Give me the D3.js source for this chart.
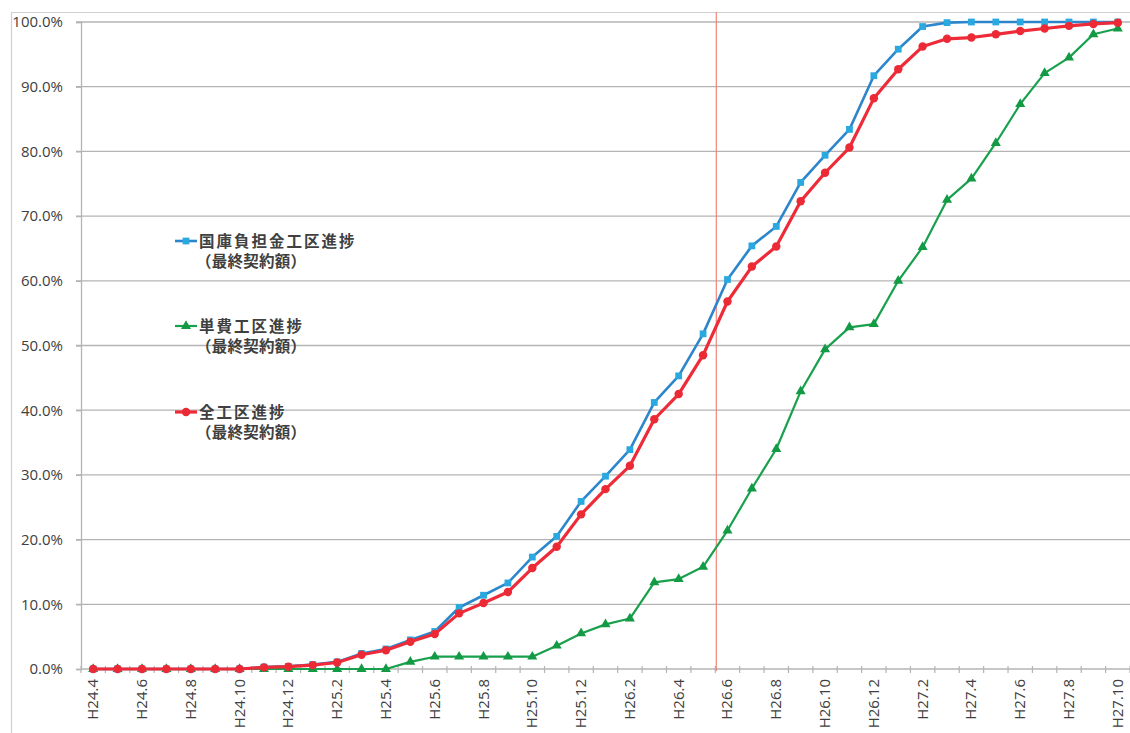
<!DOCTYPE html>
<html>
<head>
<meta charset="utf-8">
<script src="https://cdn.jsdelivr.net/npm/d3@7"></script>
<style>
  html, body { margin: 0; padding: 0; background: #fff; }
  svg { display: block; }
</style>
</head>
<body>
<svg id="chart" width="1130" height="733"></svg>
<script>
// Monthly categories H24.4 … H27.10
const months = [
  "H24.4","H24.5","H24.6","H24.7","H24.8","H24.9","H24.10","H24.11","H24.12",
  "H25.1","H25.2","H25.3","H25.4","H25.5","H25.6","H25.7","H25.8","H25.9","H25.10","H25.11","H25.12",
  "H26.1","H26.2","H26.3","H26.4","H26.5","H26.6","H26.7","H26.8","H26.9","H26.10","H26.11","H26.12",
  "H27.1","H27.2","H27.3","H27.4","H27.5","H27.6","H27.7","H27.8","H27.9","H27.10"
];
// Every other month is labelled
const tickLabels = months.filter((m, i) => i % 2 === 0);

// 国庫負担金工区進捗 (%)
const kokkoProgress = [
  0, 0, 0, 0, 0, 0, 0, 0.3, 0.4,
  0.7, 1.1, 2.4, 3.1, 4.5, 5.8, 9.5, 11.4, 13.3, 17.3, 20.5, 25.9,
  29.8, 33.9, 41.2, 45.3, 51.8, 60.2, 65.4, 68.4, 75.2, 79.4, 83.4, 91.7,
  95.8, 99.3, 99.9, 100, 100, 100, 100, 100, 100, 100
];
// 単費工区進捗 (%)
const tanpiProgress = [
  0, 0, 0, 0, 0, 0, 0, 0, 0,
  0, 0, 0, 0, 1.1, 1.9, 1.9, 1.9, 1.9, 1.9, 3.6, 5.5,
  6.9, 7.8, 13.4, 13.9, 15.8, 21.4, 27.9, 34.0, 42.9, 49.4, 52.8, 53.3,
  60.0, 65.2, 72.5, 75.8, 81.3, 87.3, 92.1, 94.5, 98.1, 99.0
];
// 全工区進捗 (%)
const zenProgress = [
  0, 0, 0, 0, 0, 0, 0, 0.25, 0.36,
  0.6, 1.0, 2.2, 2.9, 4.2, 5.4, 8.6, 10.2, 11.9, 15.6, 18.9, 23.9,
  27.8, 31.4, 38.6, 42.5, 48.5, 56.8, 62.2, 65.3, 72.3, 76.7, 80.6, 88.2,
  92.7, 96.2, 97.4, 97.6, 98.1, 98.6, 99.0, 99.4, 99.7, 99.9
];
const yTicks = [0, 10, 20, 30, 40, 50, 60, 70, 80, 90, 100];
// Month boundary marked with the vertical reference line (before H26.6)
const markerMonth = "H26.6";

const seriesNames = ["国庫負担金工区進捗", "単費工区進捗", "全工区進捗"];
const subLabel = "（最終契約額）";

const svg = d3.select("#chart");
const W = 1130, H = 733;
const plot = { left: 81, right: 1130, top: 22, bottom: 669 };

const x = d3.scaleBand().domain(months).range([plot.left, plot.right]).paddingInner(0).paddingOuter(0);
const cx = m => x(m) + x.bandwidth() / 2;
const y = d3.scaleLinear().domain([0, 100]).range([plot.bottom, plot.top]);

const gridColor = "#b4b4b4";
const textColor = "#404040";
const labelFont = "'Open Sans', 'DejaVu Sans', sans-serif";
const cjkFont = "'Noto Sans CJK JP', 'Noto Sans', sans-serif";

// outer frame
svg.append("line").attr("x1", 11).attr("x2", W).attr("y1", 12.5).attr("y2", 12.5)
  .attr("stroke", "#d0d0d0").attr("stroke-width", 1.2);
svg.append("line").attr("x1", 11.5).attr("x2", 11.5).attr("y1", 12).attr("y2", H)
  .attr("stroke", "#d0d0d0").attr("stroke-width", 1.2);

// horizontal gridlines
svg.append("g").selectAll("line").data(yTicks.filter(d => d > 0)).join("line")
  .attr("x1", plot.left - 5).attr("x2", plot.right)
  .attr("y1", d => y(d)).attr("y2", d => y(d))
  .attr("stroke", gridColor).attr("stroke-width", 1.3);

// y axis
const yAxis = d3.axisLeft(y).tickValues(yTicks).tickSize(5).tickPadding(13)
  .tickFormat(d => d.toFixed(1) + "%");
const gy = svg.append("g").attr("transform", `translate(${plot.left},0)`).call(yAxis);
gy.select(".domain").attr("stroke", gridColor).attr("stroke-width", 1.3);
gy.selectAll(".tick line").attr("stroke", gridColor).attr("stroke-width", 1.3);
gy.selectAll("text").attr("fill", textColor).style("font-family", labelFont).style("font-size", "15px");

// x axis: ticks on month boundaries, labels on every other month
const boundaries = months.map(m => x(m)).concat([plot.right]);
svg.append("line").attr("x1", plot.left).attr("x2", plot.right)
  .attr("y1", plot.bottom).attr("y2", plot.bottom)
  .attr("stroke", gridColor).attr("stroke-width", 1.3);
svg.append("g").selectAll("line").data(boundaries).join("line")
  .attr("x1", d => d).attr("x2", d => d)
  .attr("y1", plot.bottom - 3).attr("y2", plot.bottom + 4)
  .attr("stroke", gridColor).attr("stroke-width", 1.2);
svg.append("g").selectAll("text").data(tickLabels).join("text")
  .attr("transform", d => `translate(${cx(d) + 5},${plot.bottom + 10}) rotate(-90)`)
  .attr("text-anchor", "end")
  .attr("fill", textColor)
  .style("font-family", labelFont).style("font-size", "15px")
  .text(d => d);

// vertical reference line
const refX = x(markerMonth) + 1;
svg.append("line").attr("x1", refX).attr("x2", refX)
  .attr("y1", 12).attr("y2", plot.bottom + 2)
  .attr("stroke", "#f07a6e").attr("stroke-width", 1.1);

// series
const series = [
  { name: seriesNames[1], values: tanpiProgress, color: "#18a04c", fill: "#139a45", width: 2.2, symbol: d3.symbolTriangle, size: 44 },
  { name: seriesNames[0], values: kokkoProgress, color: "#2c86cc", fill: "#2aa8e0", width: 2.6, symbol: d3.symbolSquare, size: 46 },
  { name: seriesNames[2], values: zenProgress, color: "#ee2b38", fill: "#ec2a36", width: 3.2, symbol: d3.symbolCircle, size: 56 }
];

const line = d3.line().x((d, i) => cx(months[i])).y(d => y(d));

series.forEach(s => {
  const g = svg.append("g");
  g.append("path").datum(s.values)
    .attr("d", line).attr("fill", "none")
    .attr("stroke", s.color).attr("stroke-width", s.width)
    .attr("stroke-linejoin", "round");
  g.selectAll("path.pt").data(s.values).join("path").attr("class", "pt")
    .attr("transform", (d, i) => `translate(${cx(months[i])},${y(d)})`)
    .attr("d", d3.symbol().type(s.symbol).size(s.size))
    .attr("fill", s.fill);
});

// legend (placed inside the plot)
const legend = [
  { s: series[1], y: 241 },
  { s: series[0], y: 326 },
  { s: series[2], y: 412 }
];
legend.forEach(l => {
  const g = svg.append("g");
  g.append("line").attr("x1", 175).attr("x2", 197).attr("y1", l.y).attr("y2", l.y)
    .attr("stroke", l.s.color).attr("stroke-width", l.s.width);
  g.append("path").attr("transform", `translate(186,${l.y})`)
    .attr("d", d3.symbol().type(l.s.symbol).size(l.s.size)).attr("fill", l.s.fill);
  g.append("text").attr("x", 199).attr("y", l.y + 6)
    .attr("fill", textColor).style("font-family", cjkFont).style("font-size", "15.5px")
    .style("font-weight", "bold").style("letter-spacing", "2px")
    .text(l.s.name);
  g.append("text").attr("x", 196).attr("y", l.y + 26)
    .attr("fill", textColor).style("font-family", cjkFont).style("font-size", "15.5px")
    .style("font-weight", "bold")
    .attr("textLength", 110).attr("lengthAdjust", "spacing")
    .text(subLabel);
});
</script>
</body>
</html>
